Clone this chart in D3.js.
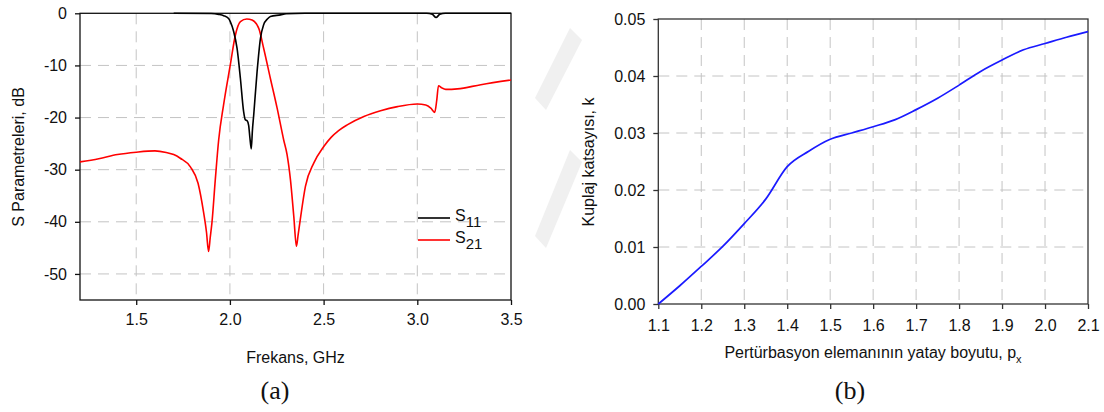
<!DOCTYPE html>
<html><head><meta charset="utf-8">
<script src="https://cdn.jsdelivr.net/npm/d3@7"></script>
<style>
html,body{margin:0;padding:0;background:#fff;}
text{font-family:"Liberation Sans",Arial,sans-serif;fill:#111;}
</style></head>
<body>
<svg id="c" width="1104" height="412"></svg>
<script>
// ---- Data (a) ----
const s21Freq = [1.2,1.3,1.4,1.5,1.6,1.66,1.7,1.735,1.79,1.83,1.86,1.875,1.886,1.895,1.904,1.922,1.94,1.966,2.002,2.029,2.056,2.09,2.118,2.154,2.18,2.216,2.252,2.287,2.305,2.323,2.341,2.355,2.364,2.373,2.403,2.448,2.5,2.54,2.58,2.626,2.715,2.804,2.894,3.0,3.045,3.072,3.093,3.104,3.113,3.13,3.152,3.214,3.339,3.5];
const s21dB   = [-28.5,-27.9,-27.1,-26.65,-26.4,-26.7,-27.1,-27.8,-29.5,-32.6,-38.3,-42,-45.7,-43,-40.2,-31.9,-24.3,-17.6,-9.9,-4.2,-1.6,-1.1,-1.3,-2.9,-6.7,-12.5,-18.2,-24.3,-27.1,-31.9,-39,-44.7,-42.5,-40.2,-33.2,-28.7,-25.6,-23.8,-22.5,-21.4,-19.8,-18.7,-17.9,-17.4,-17.6,-18.2,-19.0,-16.6,-13.9,-14.3,-14.6,-14.5,-13.7,-12.8];
const s11Freq = [1.7,1.9,1.94,1.967,1.993,2.002,2.02,2.038,2.056,2.073,2.082,2.092,2.1,2.107,2.114,2.12,2.127,2.145,2.163,2.18,2.2,2.216,2.27,2.3,2.4,3.05,3.08,3.1,3.12,3.15,3.5];
const s11dB   = [0,-0.05,-0.2,-0.45,-1.0,-1.6,-3.5,-6.7,-12.5,-18.8,-20.4,-20.6,-21.5,-24,-26.0,-22.5,-19.5,-11.2,-4.8,-2.2,-1.1,-0.6,-0.3,-0.1,0,0,-0.2,-0.8,-0.2,0,0];
const aXTicks = [1.5,2.0,2.5,3.0,3.5];
const aYTicks = [0,-10,-20,-30,-40,-50];
// ---- Data (b) ----
const pxVals = [1.1,1.15,1.2,1.25,1.3,1.35,1.4,1.45,1.5,1.55,1.6,1.65,1.7,1.75,1.8,1.85,1.9,1.95,2.0,2.05,2.1];
const kVals  = [0,0.0032,0.0066,0.0101,0.0141,0.0184,0.0241,0.0268,0.0289,0.0300,0.0311,0.0323,0.0341,0.0361,0.0384,0.0408,0.0428,0.0446,0.0457,0.0468,0.0478];
const bXTicks = [1.1,1.2,1.3,1.4,1.5,1.6,1.7,1.8,1.9,2.0,2.1];
const bYTicks = [0,0.01,0.02,0.03,0.04,0.05];

const svg = d3.select("#c");

// watermark shapes
svg.append("polygon").attr("points","570,28 582,40 546,110 535,98").attr("fill","#f0f0f0");
svg.append("polygon").attr("points","570,150 582,162 546,248 535,236").attr("fill","#f0f0f0");

const gridDash = "11,7";
const gridColor = "#c4c4c4";

// ===== Chart (a) =====
{
  const L=80,R=511,T=13.3,B=300;
  const x=d3.scaleLinear().domain([1.2,3.5]).range([L,R]);
  const y=d3.scaleLinear().domain([-55,0]).range([B,T]);
  const g=svg.append("g");
  g.selectAll(".vg").data(aXTicks.filter(d=>d<3.5)).join("line")
    .attr("x1",d=>x(d)).attr("x2",d=>x(d)).attr("y1",T).attr("y2",B)
    .attr("stroke",gridColor).attr("stroke-dasharray",gridDash);
  g.selectAll(".hg").data(aYTicks.filter(d=>d<0)).join("line")
    .attr("x1",L).attr("x2",R).attr("y1",d=>y(d)).attr("y2",d=>y(d))
    .attr("stroke",gridColor).attr("stroke-dasharray",gridDash);
  g.append("rect").attr("x",L).attr("y",T).attr("width",R-L).attr("height",B-T)
    .attr("fill","none").attr("stroke","#111").attr("stroke-width",1.3);
  const xa=g.append("g").attr("transform",`translate(0,${B})`)
    .call(d3.axisBottom(x).tickValues(aXTicks).tickFormat(d3.format(".1f")).tickSize(5).tickPadding(9));
  const ya=g.append("g").attr("transform",`translate(${L},0)`)
    .call(d3.axisLeft(y).tickValues(aYTicks).tickFormat(d=>d===0?"0":d3.format("d")(d).replace("−","-")).tickSize(5).tickPadding(8));
  [xa,ya].forEach(a=>{a.select(".domain").remove();a.selectAll("line").attr("stroke","#111").attr("stroke-width",1.3);
    a.selectAll("text").attr("font-size",16).attr("font-family","Liberation Sans, Arial, sans-serif").attr("fill","#111");});
  const line=d3.line().x(d=>x(d[0])).y(d=>y(d[1])).curve(d3.curveMonotoneX);
  g.append("path").datum(s21Freq.map((f,i)=>[f,s21dB[i]])).attr("d",line)
    .attr("fill","none").attr("stroke","#ff0000").attr("stroke-width",1.6);
  g.append("path").datum(s11Freq.map((f,i)=>[f,s11dB[i]])).attr("d",line)
    .attr("fill","none").attr("stroke","#000").attr("stroke-width",1.6);
  const lg=g.append("g");
  [["11","#000",218],["21","#ff0000",240]].forEach(([sub,c,yy])=>{
    lg.append("line").attr("x1",418).attr("x2",450).attr("y1",yy).attr("y2",yy).attr("stroke",c).attr("stroke-width",1.6);
    const t=lg.append("text").attr("x",455).attr("y",yy+3).attr("font-size",16);
    t.append("tspan").text("S");
    t.append("tspan").attr("dy",6).attr("font-size",15).text(sub);
  });
  g.append("text").attr("x",(L+R)/2).attr("y",363).attr("text-anchor","middle").attr("font-size",16).text("Frekans, GHz");
  g.append("text").attr("transform",`translate(24,157) rotate(-90)`).attr("text-anchor","middle").attr("font-size",16).text("S Parametreleri, dB");
  g.append("text").attr("x",275).attr("y",399).attr("text-anchor","middle").attr("font-size",26)
    .style("font-family","'Liberation Serif','Times New Roman',serif").text("(a)");
}

// ===== Chart (b) =====
{
  const L=658.3,R=1088,T=19,B=304;
  const x=d3.scaleLinear().domain([1.1,2.1]).range([L,R]);
  const y=d3.scaleLinear().domain([0,0.05]).range([B,T]);
  const g=svg.append("g");
  g.selectAll(".vg").data(bXTicks.slice(1,-1)).join("line")
    .attr("x1",d=>x(d)).attr("x2",d=>x(d)).attr("y1",T).attr("y2",B)
    .attr("stroke",gridColor).attr("stroke-dasharray",gridDash);
  g.selectAll(".hg").data(bYTicks.slice(1,-1)).join("line")
    .attr("x1",L).attr("x2",R).attr("y1",d=>y(d)).attr("y2",d=>y(d))
    .attr("stroke",gridColor).attr("stroke-dasharray",gridDash);
  g.append("rect").attr("x",L).attr("y",T).attr("width",R-L).attr("height",B-T)
    .attr("fill","none").attr("stroke","#333").attr("stroke-width",1.3);
  const xa=g.append("g").attr("transform",`translate(0,${B})`)
    .call(d3.axisBottom(x).tickValues(bXTicks).tickFormat(d3.format(".1f")).tickSize(5).tickPadding(11));
  const ya=g.append("g").attr("transform",`translate(${L},0)`)
    .call(d3.axisLeft(y).tickValues(bYTicks).tickFormat(d3.format(".2f")).tickSize(5).tickPadding(8));
  [xa,ya].forEach(a=>{a.select(".domain").remove();a.selectAll("line").attr("stroke","#333").attr("stroke-width",1.3);
    a.selectAll("text").attr("font-size",16).attr("font-family","Liberation Sans, Arial, sans-serif").attr("fill","#111");});
  const line=d3.line().x(d=>x(d[0])).y(d=>y(d[1])).curve(d3.curveMonotoneX);
  g.append("path").datum(pxVals.map((p,i)=>[p,kVals[i]])).attr("d",line)
    .attr("fill","none").attr("stroke","#1a1aff").attr("stroke-width",1.7);
  const xl=g.append("text").attr("x",873).attr("y",358).attr("text-anchor","middle").attr("font-size",16);
  xl.append("tspan").text("Pertürbasyon elemanının yatay boyutu, p");
  xl.append("tspan").attr("dy",5).attr("font-size",11).text("x");
  g.append("text").attr("transform",`translate(594,162) rotate(-90)`).attr("text-anchor","middle").attr("font-size",16).text("Kuplaj katsayısı, k");
  g.append("text").attr("x",850).attr("y",399).attr("text-anchor","middle").attr("font-size",26)
    .style("font-family","'Liberation Serif','Times New Roman',serif").text("(b)");
}
</script>
</body></html>
